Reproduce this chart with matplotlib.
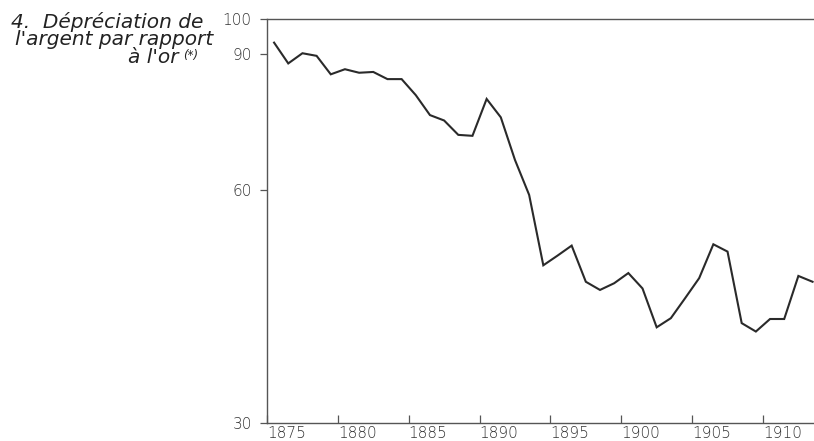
import matplotlib
matplotlib.use("Agg")
import matplotlib.pyplot as plt
import numpy as np

# Data: silver price relative to gold (log scale index)
years = list(range(1875, 1914))
values = [93.2, 87.6, 90.3, 89.6, 84.8, 86.1, 85.2, 85.4, 83.6, 83.6,
          79.7, 75.1, 73.9, 70.8, 70.6, 78.8, 74.6, 65.7, 59.2, 48.0,
          49.4, 50.9, 45.7, 44.6, 45.5, 46.9, 44.8, 39.9, 41.0, 43.5,
          46.2, 51.1, 50.0, 40.4, 39.4, 40.9, 40.9, 46.5, 45.7]
x_ticks = [1875, 1880, 1885, 1890, 1895, 1900, 1905, 1910]
x_labels = [str(v) for v in x_ticks]
y_ticks = [30, 60, 90, 100]
y_labels = ["30", "60", "90", "100"]
title_lines = ["4.  Dépréciation de", "l'argent par rapport", "à l'or"]
title_note = "(*)"

W, H = 814, 441
fig = plt.figure(figsize=(W / 100, H / 100), dpi=100)
ax = fig.add_axes([267 / W, (H - 423) / H, (W - 267) / W, (423 - 19) / H])

x = np.array(years) + 0.5
ax.plot(x, values, color="#2a2a2a", lw=1.5, solid_joinstyle="miter")

ax.set_yscale("log")
ax.set_ylim(30, 100)
ax.set_xlim(1875, 1875 + (W - 267) / 14.17)
ax.yaxis.set_minor_locator(matplotlib.ticker.NullLocator())
ax.set_yticks(y_ticks)
ax.set_yticklabels(y_labels)
ax.set_xticks(x_ticks)
ax.set_xticklabels(x_labels, ha="left")

for s in ["left", "bottom", "top"]:
    ax.spines[s].set_color("#555555")
    ax.spines[s].set_linewidth(1.0)
ax.spines["right"].set_visible(False)

ax.tick_params(axis="x", direction="in", length=6, width=0.9, color="#555555",
               pad=2, labelsize=11, labelcolor="#333333")
ax.tick_params(axis="y", direction="out", length=5, width=0.9, color="#555555",
               pad=6, labelsize=11, labelcolor="#333333")
for lab in ax.get_xticklabels() + ax.get_yticklabels():
    lab.set_fontfamily("DejaVu Sans")
    lab.set_fontweight("light")

tx = [203, 213, 179]
ty = [28, 45, 63]
for t, xx, yy in zip(title_lines, tx, ty):
    fig.text(xx / W, 1 - yy / H, t, ha="right", va="baseline",
             fontsize=14.5, style="italic", family="DejaVu Sans",
             color="#222222")
fig.text(183 / W, 1 - 59 / H, title_note, ha="left", va="baseline",
         fontsize=8.5, style="italic", family="DejaVu Sans", color="#222222")

fig.savefig("out.png", dpi=100)
